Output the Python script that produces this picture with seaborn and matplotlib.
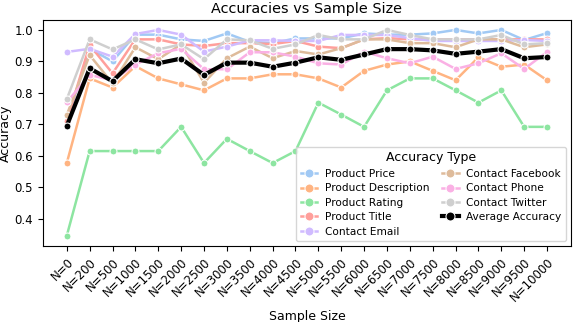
import matplotlib
matplotlib.use("Agg")
import matplotlib.pyplot as plt
import seaborn as sns
import pandas as pd

sample_sizes = ["N=0", "N=200", "N=500", "N=1000", "N=1500", "N=2000", "N=2500", "N=3000",
                "N=3500", "N=4000", "N=4500", "N=5000", "N=5500", "N=6000", "N=6500", "N=7000",
                "N=7500", "N=8000", "N=8500", "N=9000", "N=9500", "N=10000"]

product_price = [0.71, 0.94, 0.90, 0.985, 0.985, 0.97, 0.965, 0.989, 0.962, 0.958, 0.973, 0.973,
                 0.973, 0.989, 0.985, 0.985, 0.989, 1.0, 0.989, 1.0, 0.968, 0.99]
product_description = [0.577, 0.846, 0.817, 0.885, 0.846, 0.827, 0.808, 0.846, 0.846, 0.859, 0.859,
                       0.846, 0.817, 0.87, 0.89, 0.9, 0.87, 0.84, 0.913, 0.883, 0.89, 0.84]
product_rating = [0.346, 0.615, 0.615, 0.615, 0.615, 0.692, 0.577, 0.654, 0.615, 0.577, 0.615,
                  0.769, 0.731, 0.692, 0.808, 0.846, 0.846, 0.808, 0.769, 0.808, 0.692, 0.692]
product_title = [0.71, 0.952, 0.862, 0.97, 0.97, 0.954, 0.949, 0.958, 0.958, 0.955, 0.965, 0.947,
                 0.942, 0.97, 0.974, 0.97, 0.97, 0.97, 0.97, 0.97, 0.97, 0.97]
contact_email = [0.93, 0.94, 0.915, 0.987, 1.0, 0.985, 0.931, 0.947, 0.967, 0.967, 0.965, 0.965,
                 0.984, 0.984, 0.984, 0.974, 0.965, 0.965, 0.965, 0.965, 0.968, 0.965]
contact_facebook = [0.73, 0.92, 0.83, 0.945, 0.907, 0.954, 0.832, 0.91, 0.947, 0.91, 0.933, 0.922,
                    0.942, 0.97, 0.97, 0.958, 0.958, 0.945, 0.97, 0.97, 0.945, 0.954]
contact_phone = [0.77, 0.857, 0.84, 0.89, 0.926, 0.94, 0.875, 0.875, 0.929, 0.929, 0.915, 0.894,
                 0.89, 0.931, 0.91, 0.894, 0.915, 0.876, 0.894, 0.926, 0.876, 0.93]
contact_twitter = [0.78, 0.97, 0.938, 0.97, 0.938, 0.954, 0.907, 0.97, 0.967, 0.94, 0.954, 0.984,
                   0.97, 0.97, 1.0, 0.984, 0.97, 0.97, 0.97, 0.984, 0.954, 0.958]
average_accuracy = [0.695, 0.878, 0.837, 0.907, 0.894, 0.909, 0.857, 0.896, 0.896, 0.883, 0.896,
                    0.913, 0.905, 0.922, 0.939, 0.939, 0.935, 0.924, 0.931, 0.939, 0.91, 0.914]

series = {
    "Product Price": product_price,
    "Product Description": product_description,
    "Product Rating": product_rating,
    "Product Title": product_title,
    "Contact Email": contact_email,
    "Contact Facebook": contact_facebook,
    "Contact Phone": contact_phone,
    "Contact Twitter": contact_twitter,
}

rows = []
for name, vals in series.items():
    for s, v in zip(sample_sizes, vals):
        rows.append({"Sample Size": s, "Accuracy": v, "Accuracy Type": name})
df = pd.DataFrame(rows)
avg_df = pd.DataFrame({"Sample Size": sample_sizes, "Accuracy": average_accuracy})

fig, ax = plt.subplots(figsize=(5.78, 3.22), dpi=100)
palette = sns.color_palette("pastel", len(series))
sns.lineplot(data=df, x="Sample Size", y="Accuracy", hue="Accuracy Type", palette=palette,
             marker="o", markersize=5, linewidth=1.8, ax=ax, sort=False)
sns.lineplot(data=avg_df, x="Sample Size", y="Accuracy", color="black", marker="o",
             markersize=5, linewidth=3, ax=ax, sort=False, label="Average Accuracy")

ax.set_title("Accuracies vs Sample Size", fontsize=10.4, pad=5)
ax.set_xlabel("Sample Size", fontsize=9)
ax.set_ylabel("Accuracy", fontsize=9, labelpad=2)
ax.tick_params(axis="both", labelsize=8.5)
plt.setp(ax.get_xticklabels(), rotation=45, ha="right", rotation_mode="anchor")
ax.legend(title="Accuracy Type", ncol=2, loc="lower right", fontsize=7.6, title_fontsize=9,
          handlelength=1.6, columnspacing=1.2, labelspacing=0.42, borderpad=0.4,
          handletextpad=0.7, markerscale=1.3)

fig.subplots_adjust(left=0.074, right=0.988, top=0.939, bottom=0.236)
fig.savefig("out.png", dpi=100)
